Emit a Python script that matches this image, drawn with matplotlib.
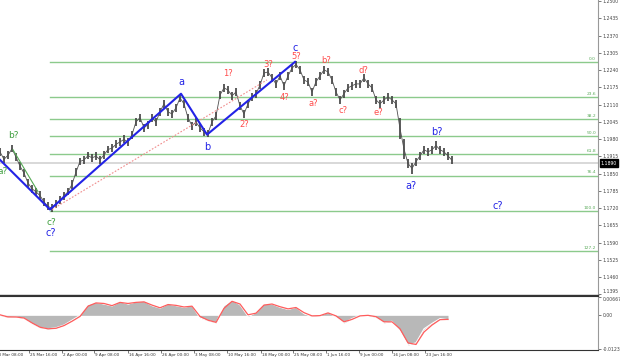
import matplotlib
matplotlib.use("Agg")
import matplotlib.pyplot as plt
import numpy as np

# price bars (one bar every 4 time units), highs and lows
bar_hi = [1.1946, 1.1918, 1.1934, 1.1958, 1.1928, 1.1893, 1.1866, 1.1830, 1.1808, 1.1795,
          1.1783, 1.1757, 1.1742, 1.1735, 1.1750, 1.1765, 1.1782, 1.1795, 1.1825, 1.1872,
          1.1910, 1.1916, 1.1932, 1.1925, 1.1930, 1.1918, 1.1935, 1.1956, 1.1960, 1.1975,
          1.1984, 1.1994, 1.1983, 1.2012, 1.2060, 1.2076, 1.2037, 1.2050, 1.2074, 1.2060,
          1.2098, 1.2128, 1.2097, 1.2090, 1.2112, 1.2150, 1.2128, 1.2075, 1.2046, 1.2058,
          1.2038, 1.2022, 1.2016, 1.2060, 1.2083, 1.2162, 1.2188, 1.2180, 1.2158, 1.2172,
          1.2120, 1.2090, 1.2128, 1.2153, 1.2166, 1.2199, 1.2244, 1.2248, 1.2226, 1.2203,
          1.2232, 1.2196, 1.2233, 1.2262, 1.2275, 1.2256, 1.2218, 1.2210, 1.2173, 1.2211,
          1.2233, 1.2256, 1.2248, 1.2218, 1.2173, 1.2143, 1.2166, 1.2188, 1.2196, 1.2203,
          1.2203, 1.2226, 1.2203, 1.2188, 1.2143, 1.2128, 1.2143, 1.2153, 1.2143, 1.2128,
          1.2060, 1.1980, 1.1905, 1.1890, 1.1910, 1.1932, 1.1955, 1.1947, 1.1955, 1.1972,
          1.1955, 1.1947, 1.1932, 1.1915]
bar_lo = [1.1918, 1.1890, 1.1905, 1.1930, 1.1897, 1.1864, 1.1838, 1.1800, 1.1778, 1.1768,
          1.1752, 1.1730, 1.1712, 1.1704, 1.1720, 1.1736, 1.1752, 1.1768, 1.1794, 1.1840,
          1.1882, 1.1887, 1.1904, 1.1894, 1.1902, 1.1888, 1.1906, 1.1926, 1.1932, 1.1946,
          1.1955, 1.1964, 1.1954, 1.1982, 1.2030, 1.2046, 1.2008, 1.2020, 1.2045, 1.2030,
          1.2068, 1.2098, 1.2068, 1.2060, 1.2084, 1.2120, 1.2098, 1.2045, 1.2015, 1.2030,
          1.2008, 1.1993, 1.1987, 1.2030, 1.2052, 1.2130, 1.2158, 1.2150, 1.2128, 1.2143,
          1.2090, 1.2060, 1.2098, 1.2124, 1.2136, 1.2168, 1.2214, 1.2218, 1.2196, 1.2172,
          1.2204, 1.2166, 1.2203, 1.2233, 1.2248, 1.2226, 1.2188, 1.2180, 1.2142, 1.2181,
          1.2203, 1.2226, 1.2218, 1.2188, 1.2142, 1.2113, 1.2136, 1.2158, 1.2166, 1.2173,
          1.2173, 1.2196, 1.2173, 1.2158, 1.2113, 1.2098, 1.2113, 1.2124, 1.2113, 1.2098,
          1.1980, 1.1905, 1.1872, 1.1850, 1.1880, 1.1902, 1.1925, 1.1917, 1.1925, 1.1940,
          1.1925, 1.1917, 1.1902, 1.1885]
last_price = 1.1890

# oscillator (one value every 8 time units)
osc = [0.0000, -0.0008, -0.0006, -0.0012, -0.0032, -0.0046, -0.0050, -0.0046, -0.0036, -0.0018,
       0.0000, 0.0040, 0.0048, 0.0042, 0.0035, 0.0051, 0.0042, 0.0050, 0.0052, 0.0036,
       0.0027, 0.0042, 0.0036, 0.0030, 0.0036, -0.0010, -0.0020, -0.0028, 0.0036, 0.0056,
       0.0039, -0.0004, 0.0010, 0.0042, 0.0042, 0.0030, 0.0022, 0.0030, 0.0006, -0.0004,
       0.0000, 0.0011, -0.0006, -0.0028, -0.0012, 0.0000, 0.0000, -0.0008, -0.0028, -0.0022,
       -0.0058, -0.0110, -0.0102, -0.0050, -0.0030, -0.0012, -0.0016]
signal = [0.0002, -0.0006, -0.0006, -0.0010, -0.0028, -0.0044, -0.0050, -0.0048, -0.0038, -0.0022,
          -0.0004, 0.0034, 0.0046, 0.0044, 0.0036, 0.0048, 0.0044, 0.0048, 0.0050, 0.0038,
          0.0028, 0.0040, 0.0037, 0.0031, 0.0034, -0.0004, -0.0018, -0.0026, 0.0026, 0.0052,
          0.0042, 0.0002, 0.0008, 0.0038, 0.0042, 0.0032, 0.0024, 0.0029, 0.0010, -0.0002,
          -0.0001, 0.0009, -0.0002, -0.0024, -0.0015, -0.0002, 0.0000, -0.0005, -0.0024, -0.0024,
          -0.0050, -0.0102, -0.0108, -0.0062, -0.0036, -0.0016, -0.0015]

# fibonacci grid
fib_levels = ["0.0", "23.6", "38.2", "50.0", "61.8", "76.4", "100.0", "127.2"]
fib_prices = [1.2271, 1.2139, 1.2057, 1.1991, 1.1925, 1.1843, 1.1711, 1.1559]
fib_start = 50

# wave count
zig_t = [0, 50, 181, 207, 295]
zig_p = [1.1902, 1.1715, 1.2151, 1.1997, 1.2271]
chan_t = [52, 267]
chan_p = [1.1715, 1.2203]
grn_t = [13, 38]
grn_p = [1.1940, 1.1782]

blue_lbl = [("c?", 51, 1.1625), ("a", 181, 1.2196), ("b", 207, 1.1951), ("c", 295, 1.2324),
            ("b?", 437, 1.2008), ("a?", 411, 1.1805), ("c?", 498, 1.1730)]
red_lbl = [("1?", 228, 1.2226), ("2?", 244, 1.2034), ("3?", 268, 1.2260), ("4?", 285, 1.2136),
           ("5?", 296, 1.2290), ("a?", 313, 1.2113), ("b?", 326, 1.2275), ("c?", 343, 1.2087),
           ("d?", 363, 1.2237), ("e?", 378, 1.2079)]
green_lbl = [("b?", 13, 1.1993), ("a?", 3, 1.1857), ("c?", 51, 1.1666)]

price_ticks = [1.1395, 1.1460, 1.1525, 1.1590, 1.1655, 1.1720, 1.1785, 1.1850, 1.1915,
               1.1980, 1.2045, 1.2110, 1.2175, 1.2240, 1.2305, 1.2370, 1.2435, 1.2500]
date_pos = [-5, 29, 62, 94, 128, 161, 194, 227, 261, 293, 326, 359, 392, 425]
date_lbl = ["18 Mar 08:00", "25 Mar 16:00", "2 Apr 00:00", "9 Apr 08:00", "16 Apr 16:00",
            "26 Apr 00:00", "3 May 08:00", "10 May 16:00", "18 May 00:00", "25 May 08:00",
            "1 Jun 16:00", "9 Jun 00:00", "16 Jun 08:00", "23 Jun 16:00"]

BLUE, RED, GRN, FIB = "#2323e6", "#ff4b4b", "#3f9f3f", "#8cca8c"
XMAX = 598

fig = plt.figure(figsize=(6.2, 3.61), dpi=100)
ax = fig.add_axes([0, 66 / 361, XMAX / 620, 295 / 361])
ox = fig.add_axes([0, 11 / 361, XMAX / 620, 54 / 361])

# --- price panel
ax.axhline(last_price, color="#d2d2d2", lw=1.2, zorder=1)
for lvl, p in zip(fib_levels, fib_prices):
    ax.plot([fib_start, XMAX], [p, p], color=FIB, lw=1.0, zorder=2)
    ax.text(XMAX - 2, p + 0.0004, lvl, color="#5aaa5a", fontsize=3.2, ha="right", va="bottom")

bx = np.arange(len(bar_hi)) * 4
hi = np.array(bar_hi)
lo = np.array(bar_lo)
ax.vlines(bx, lo, hi, color="#404040", lw=1.2, zorder=3)
ax.plot(bx, (hi + lo) / 2, color="#505050", lw=0.6, zorder=3)

ax.plot(chan_t, chan_p, color="#f08c8c", lw=0.8, ls=(0, (1.5, 1.5)), zorder=4)
ax.plot(grn_t, grn_p, color="#55aa55", lw=0.8, zorder=4)
ax.plot(zig_t, zig_p, color=BLUE, lw=1.5, zorder=5)

for txt, t, p in blue_lbl:
    ax.text(t, p, txt, color=BLUE, fontsize=7, ha="center", va="center", zorder=6)
for txt, t, p in red_lbl:
    ax.text(t, p, txt, color=RED, fontsize=6, ha="center", va="center", zorder=6)
for txt, t, p in green_lbl:
    ax.text(t, p, txt, color=GRN, fontsize=6.5, ha="center", va="center", zorder=6)

ax.set_xlim(0, XMAX)
ax.set_ylim(1.1393, 1.2504)
ax.yaxis.tick_right()
ax.set_yticks(price_ticks)
ax.set_yticklabels([f"{v:.4f}" for v in price_ticks])
ax.tick_params(axis="y", labelsize=3.3, length=2, width=0.5, pad=1.5, colors="#444444")
ax.get_yticklabels()[0].set_va("bottom")
ax.set_xticks([])
for s in ("left", "top"):
    ax.spines[s].set_visible(False)
ax.spines["right"].set_color("#999999")
ax.spines["bottom"].set_color("#333333")
ax.spines["bottom"].set_linewidth(1.0)
ax.annotate(f"{last_price:.4f}", xy=(1.0, last_price), xycoords=("axes fraction", "data"),
            xytext=(2, 0), textcoords="offset points", fontsize=3.3, color="white",
            va="center", ha="left",
            bbox=dict(boxstyle="square,pad=0.25", fc="black", ec="black"))

# --- oscillator panel
ot = np.arange(len(osc)) * 8
ox.fill_between(ot, 0, osc, color="#b8b8b8", lw=0, zorder=1)
ox.plot(ot, osc, color="white", lw=0.8, zorder=2)
ox.plot(ot, signal, color="#ff5c5c", lw=0.9, zorder=3)
ox.set_xlim(0, XMAX)
ox.set_ylim(-0.01285, 0.00717)
ox.yaxis.tick_right()
ox.set_yticks([0.00667, 0.0, -0.01238])
ox.set_yticklabels(["0.00667", "0.00", "-0.01238"])
ox.tick_params(axis="y", labelsize=3.3, length=2, width=0.5, pad=1.5, colors="#444444")
ox.get_yticklabels()[0].set_va("top")
ox.set_xticks([p for p in date_pos if p >= 0])
ox.set_xticklabels([])
ox.tick_params(axis="x", length=2, width=0.5, colors="#444444")
for p, lbl in zip(date_pos, date_lbl):
    ox.text(p + 1, -0.09, lbl, fontsize=3.0, color="#333333", ha="left", va="center",
            clip_on=False, transform=ox.get_xaxis_transform())
ox.spines["left"].set_visible(False)
ox.spines["top"].set_color("#333333")
ox.spines["bottom"].set_color("#333333")
ox.spines["right"].set_color("#999999")

fig.savefig("out.png", dpi=100, facecolor="white")
